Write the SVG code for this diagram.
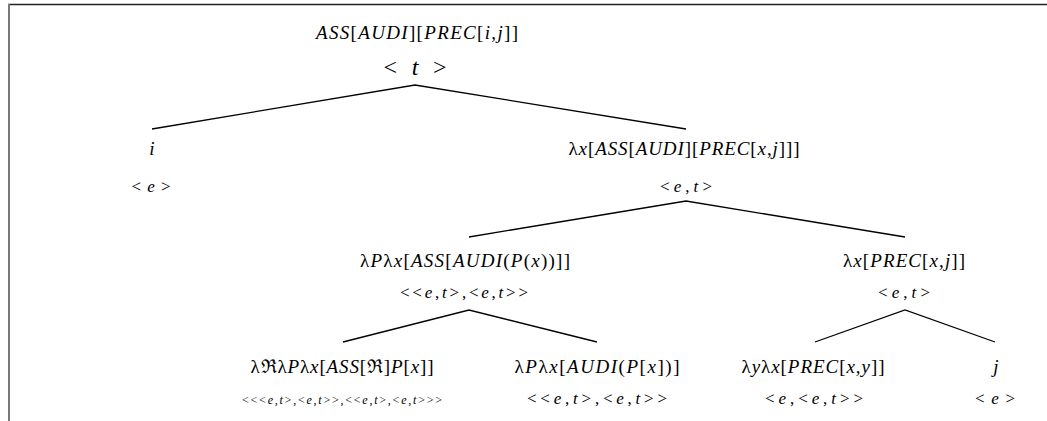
<svg xmlns="http://www.w3.org/2000/svg" width="1047" height="421" viewBox="0 0 1047 421">
<style>
.lbl{font-family:"Liberation Serif",serif;font-size:19px;text-anchor:middle;fill:#000}
.i{font-style:italic}
.t{font-size:17px}
.s{font-size:12px}
.big{font-size:24px}
.edge{stroke:#000;stroke-width:1.3;fill:none}
</style>
<rect x="0" y="0" width="1047" height="421" fill="#fff"/>
<line x1="8" y1="4.5" x2="1047" y2="4.5" stroke="#222" stroke-width="1.5"/>
<line x1="9" y1="4" x2="9" y2="421" stroke="#777" stroke-width="2"/>
<g id="connectors">
<polyline class="edge" points="152,129 415,85 686,129"/>
<polyline class="edge" points="469,237 686,201 905,237"/>
<polyline class="edge" points="343,342 469,310 597,342"/>
<polyline class="edge" points="815,342 905,310 995,342"/>
</g>
<g id="root">
<text class="lbl" x="417" y="39" textLength="202" lengthAdjust="spacing"><tspan class="i">ASS</tspan>[<tspan class="i">AUDI</tspan>][<tspan class="i">PREC</tspan>[<tspan class="i">i</tspan>,<tspan class="i">j</tspan>]]</text>
<text class="lbl big" x="415" y="75" textLength="63" lengthAdjust="spacing">&lt; <tspan class="i">t</tspan> &gt;</text>
</g>
<g id="n_i">
<text class="lbl i" x="152" y="155">i</text>
<text class="lbl t" x="151" y="192" textLength="39" lengthAdjust="spacing">&lt;<tspan class="i">e</tspan>&gt;</text>
</g>
<g id="n_lx">
<text class="lbl" x="684" y="155" textLength="231" lengthAdjust="spacing">λ<tspan class="i">x</tspan>[<tspan class="i">ASS</tspan>[<tspan class="i">AUDI</tspan>][<tspan class="i">PREC</tspan>[<tspan class="i">x</tspan>,<tspan class="i">j</tspan>]]]</text>
<text class="lbl t" x="686" y="192" textLength="52" lengthAdjust="spacing">&lt;<tspan class="i">e</tspan>,<tspan class="i">t</tspan>&gt;</text>
</g>
<g id="n_lP">
<text class="lbl" x="465" y="267" textLength="210" lengthAdjust="spacing">λ<tspan class="i">P</tspan>λ<tspan class="i">x</tspan>[<tspan class="i">ASS</tspan>[<tspan class="i">AUDI</tspan>(<tspan class="i">P</tspan>(<tspan class="i">x</tspan>))]]</text>
<text class="lbl t" x="464" y="298" textLength="128" lengthAdjust="spacing">&lt;&lt;<tspan class="i">e</tspan>,<tspan class="i">t</tspan>&gt;,&lt;<tspan class="i">e</tspan>,<tspan class="i">t</tspan>&gt;&gt;</text>
</g>
<g id="n_prec">
<text class="lbl" x="904" y="267" textLength="122" lengthAdjust="spacing">λ<tspan class="i">x</tspan>[<tspan class="i">PREC</tspan>[<tspan class="i">x</tspan>,<tspan class="i">j</tspan>]]</text>
<text class="lbl t" x="904" y="298" textLength="52" lengthAdjust="spacing">&lt;<tspan class="i">e</tspan>,<tspan class="i">t</tspan>&gt;</text>
</g>
<g id="n_ass">
<text class="lbl" x="342" y="373" textLength="183" lengthAdjust="spacing">λℜλ<tspan class="i">P</tspan>λ<tspan class="i">x</tspan>[<tspan class="i">ASS</tspan>[ℜ]<tspan class="i">P</tspan>[<tspan class="i">x</tspan>]]</text>
<text class="lbl s" x="342" y="404" textLength="200" lengthAdjust="spacing">&lt;&lt;&lt;<tspan class="i">e</tspan>,<tspan class="i">t</tspan>&gt;,&lt;<tspan class="i">e</tspan>,<tspan class="i">t</tspan>&gt;&gt;,&lt;&lt;<tspan class="i">e</tspan>,<tspan class="i">t</tspan>&gt;,&lt;<tspan class="i">e</tspan>,<tspan class="i">t</tspan>&gt;&gt;&gt;</text>
</g>
<g id="n_audi">
<text class="lbl" x="597" y="373" textLength="165" lengthAdjust="spacing">λ<tspan class="i">P</tspan>λ<tspan class="i">x</tspan>[<tspan class="i">AUDI</tspan>(<tspan class="i">P</tspan>[<tspan class="i">x</tspan>])]</text>
<text class="lbl t" x="597" y="404" textLength="140" lengthAdjust="spacing">&lt;&lt;<tspan class="i">e</tspan>,<tspan class="i">t</tspan>&gt;,&lt;<tspan class="i">e</tspan>,<tspan class="i">t</tspan>&gt;&gt;</text>
</g>
<g id="n_yx">
<text class="lbl" x="813" y="373" textLength="143" lengthAdjust="spacing">λ<tspan class="i">y</tspan>λ<tspan class="i">x</tspan>[<tspan class="i">PREC</tspan>[<tspan class="i">x</tspan>,<tspan class="i">y</tspan>]]</text>
<text class="lbl t" x="814" y="404" textLength="98" lengthAdjust="spacing">&lt;<tspan class="i">e</tspan>,&lt;<tspan class="i">e</tspan>,<tspan class="i">t</tspan>&gt;&gt;</text>
</g>
<g id="n_j">
<text class="lbl i" x="996" y="373">j</text>
<text class="lbl t" x="995" y="404" textLength="40" lengthAdjust="spacing">&lt;<tspan class="i">e</tspan>&gt;</text>
</g>
</svg>
